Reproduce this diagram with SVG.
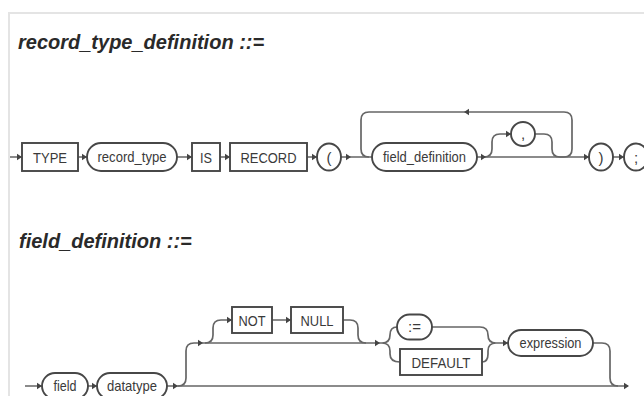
<svg xmlns="http://www.w3.org/2000/svg" width="644" height="396" viewBox="0 0 644 396">
<style>
.frame{fill:none;stroke:#e4e4e4;stroke-width:2}
.title{font-family:"Liberation Sans",Arial,sans-serif;font-weight:bold;font-style:italic;font-size:20px;fill:#2a2a2a}
.n rect,.n ellipse{fill:#fff;stroke:#474747;stroke-width:1.9}
.n text{font-family:"Liberation Sans",Arial,sans-serif;font-size:15px;fill:#3a3a3a;text-anchor:middle}
.c path.l{fill:none;stroke:#666;stroke-width:1.7}
.c use{fill:#444}
</style>
<defs>
<path id="ar" d="M-5,-3.2 L0,0 L-5,3.2 Z"/>
<path id="al" d="M5,-3.2 L0,0 L5,3.2 Z"/>
</defs>
<rect width="644" height="396" fill="#fff"/>
<path class="frame" d="M9,396 V13 H644"/>
<text class="title" x="18" y="49">record_type_definition ::=</text>
<text class="title" x="19" y="248">field_definition ::=</text>

<g class="c" id="connectors">
<path class="l" d="M10,157 H22 M78,157 H87 M177,157 H192 M220,157 H230 M307,157 H317 M341,157 H372 M477,157 H589 M613,157 H624"/>
<path class="l" d="M484,157 Q492,157 492,149 V142 Q492,134 500,134 H511"/>
<path class="l" d="M535,134 H544 Q552,134 552,142 V149 Q552,157 560,157 H564 Q572,157 572,149 V120 Q572,112 564,112 H369 Q361,112 361,120 V149 Q361,157 369,157"/>
<use href="#ar" x="22" y="157"/><use href="#ar" x="87" y="157"/><use href="#ar" x="192" y="157"/><use href="#ar" x="230" y="157"/><use href="#ar" x="317" y="157"/><use href="#ar" x="351" y="157"/><use href="#ar" x="486" y="157"/><use href="#ar" x="511" y="134"/><use href="#ar" x="589" y="157"/><use href="#ar" x="624" y="157"/><use href="#al" x="464" y="112"/>

<path class="l" d="M25,386 H42 M88,386 H97 M167,386 H628"/>
<path class="l" d="M178,386 Q186,386 186,378 V351 Q186,343 194,343 H378"/>
<path class="l" d="M205,343 Q213,343 213,335 V328 Q213,320 221,320 H232 M272,320 H291 M343,320 H350 Q358,320 358,328 V335 Q358,343 366,343"/>
<path class="l" d="M378,343 H382 Q390,343 390,335 Q390,327 397,327 M382,343 Q390,343 390,351 V354 Q390,362 400,362"/>
<path class="l" d="M432,327 H480 Q488,327 488,335 Q488,343 496,343 M482,362 Q488,362 488,354 V351 Q488,343 496,343 H508"/>
<path class="l" d="M593,343 H602 Q610,343 610,351 V378 Q610,386 618,386"/>
<use href="#ar" x="42" y="386"/><use href="#ar" x="97" y="386"/><use href="#ar" x="178" y="386"/><use href="#ar" x="203" y="343"/><use href="#ar" x="232" y="320"/><use href="#ar" x="291" y="320"/><use href="#ar" x="380" y="343"/><use href="#ar" x="508" y="343"/><use href="#ar" x="629" y="386"/>
</g>

<g class="n" id="n-type"><rect x="22" y="143" width="56" height="28"/><text x="50" y="162.5" textLength="34" lengthAdjust="spacingAndGlyphs">TYPE</text></g>
<g class="n" id="n-record_type"><rect x="87" y="143" width="90" height="28" rx="14"/><text x="132" y="161.5" textLength="69" lengthAdjust="spacingAndGlyphs">record_type</text></g>
<g class="n" id="n-is"><rect x="192" y="143" width="28" height="28"/><text x="206" y="162.5" textLength="12" lengthAdjust="spacingAndGlyphs">IS</text></g>
<g class="n" id="n-record"><rect x="230" y="143" width="77" height="28"/><text x="268.5" y="162.5" textLength="56" lengthAdjust="spacingAndGlyphs">RECORD</text></g>
<g class="n" id="n-lparen"><ellipse cx="329" cy="157" rx="12" ry="13.5"/><text x="329" y="162.5">(</text></g>
<g class="n" id="n-field_definition"><rect x="372" y="143" width="105" height="28" rx="14"/><text x="424.5" y="161.5" textLength="83" lengthAdjust="spacingAndGlyphs">field_definition</text></g>
<g class="n" id="n-comma"><ellipse cx="523" cy="134" rx="12" ry="12"/><text x="523" y="139">,</text></g>
<g class="n" id="n-rparen"><ellipse cx="601" cy="157" rx="12" ry="13.5"/><text x="601" y="162.5">)</text></g>
<g class="n" id="n-semi"><ellipse cx="636" cy="157" rx="12" ry="13.5"/><text x="636" y="162.5">;</text></g>

<g class="n" id="n-field"><rect x="42" y="373" width="46" height="26" rx="13"/><text x="65" y="390.5" textLength="23" lengthAdjust="spacingAndGlyphs">field</text></g>
<g class="n" id="n-datatype"><rect x="97" y="373" width="70" height="26" rx="13"/><text x="132" y="390.5" textLength="50" lengthAdjust="spacingAndGlyphs">datatype</text></g>
<g class="n" id="n-not"><rect x="232" y="307" width="40" height="26"/><text x="252" y="325.5" textLength="27" lengthAdjust="spacingAndGlyphs">NOT</text></g>
<g class="n" id="n-null"><rect x="291" y="307" width="52" height="26"/><text x="317" y="325.5" textLength="33" lengthAdjust="spacingAndGlyphs">NULL</text></g>
<g class="n" id="n-assign"><rect x="397" y="314.5" width="35" height="25" rx="12.5"/><text x="414.5" y="331.5">:=</text></g>
<g class="n" id="n-default"><rect x="400" y="349" width="82" height="26"/><text x="441" y="367.5" textLength="59" lengthAdjust="spacingAndGlyphs">DEFAULT</text></g>
<g class="n" id="n-expression"><rect x="508" y="330" width="85" height="26" rx="13"/><text x="550.5" y="347.5" textLength="62" lengthAdjust="spacingAndGlyphs">expression</text></g>
</svg>
